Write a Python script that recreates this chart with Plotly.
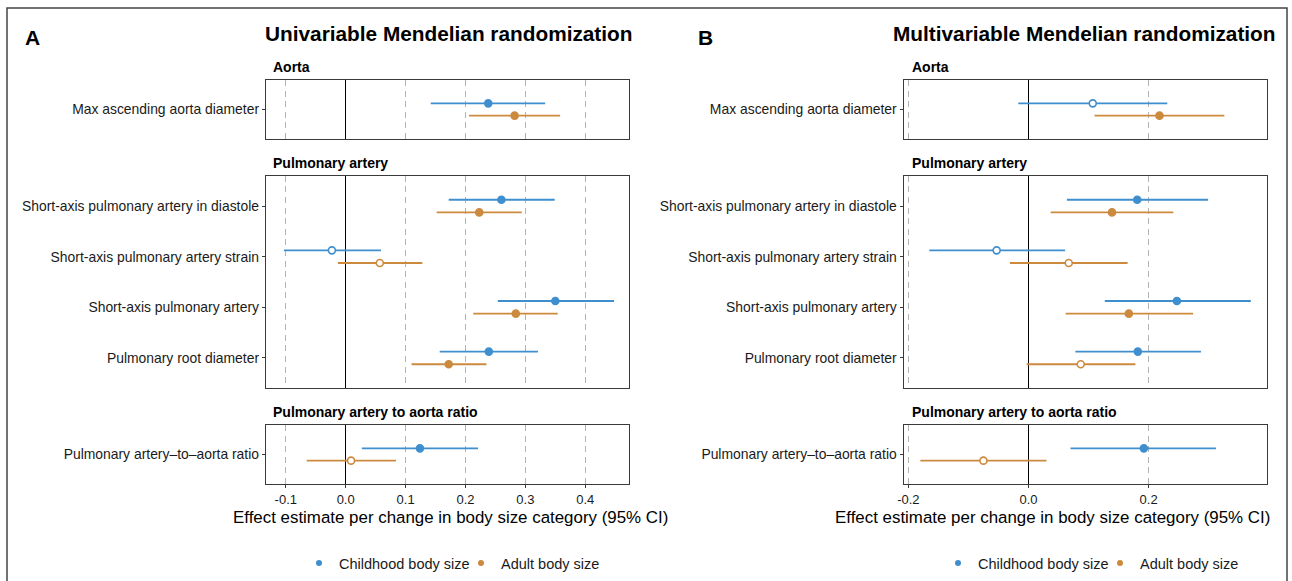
import plotly.graph_objects as go

W, H = 1292, 581

# ---------------- data ----------------
aorta_labels = ["Max ascending aorta diameter"]
pa_labels = ["Short-axis pulmonary artery in diastole",
             "Short-axis pulmonary artery strain",
             "Short-axis pulmonary artery",
             "Pulmonary root diameter"]
ratio_labels = ["Pulmonary artery\u2013to\u2013aorta ratio"]
section_titles = ["Aorta", "Pulmonary artery", "Pulmonary artery to aorta ratio"]
group_names = ["Childhood body size", "Adult body size"]

# row order: aorta, 4 pulmonary artery rows, ratio
# Univariable MR (panel A)
child_est_A = [0.238, 0.260, -0.023, 0.350, 0.239, 0.124]
child_lo_A = [0.142, 0.172, -0.103, 0.254, 0.157, 0.027]
child_hi_A = [0.333, 0.349, 0.059, 0.448, 0.321, 0.221]
child_sig_A = [True, True, False, True, True, True]
adult_est_A = [0.282, 0.223, 0.057, 0.284, 0.172, 0.009]
adult_lo_A = [0.206, 0.152, -0.013, 0.213, 0.110, -0.065]
adult_hi_A = [0.358, 0.294, 0.128, 0.354, 0.235, 0.084]
adult_sig_A = [True, True, False, True, True, False]

# Multivariable MR (panel B)
child_est_B = [0.107, 0.181, -0.053, 0.247, 0.182, 0.192]
child_lo_B = [-0.017, 0.064, -0.165, 0.127, 0.078, 0.070]
child_hi_B = [0.231, 0.299, 0.061, 0.370, 0.287, 0.312]
child_sig_B = [False, True, False, True, True, True]
adult_est_B = [0.218, 0.139, 0.067, 0.167, 0.087, -0.075]
adult_lo_B = [0.110, 0.037, -0.031, 0.062, -0.003, -0.180]
adult_hi_B = [0.326, 0.241, 0.165, 0.274, 0.178, 0.030]
adult_sig_B = [True, True, False, True, False, False]

ticks_A = [-0.1, 0.0, 0.1, 0.2, 0.3, 0.4]
ticklabels_A = ["-0.1", "0.0", "0.1", "0.2", "0.3", "0.4"]
ticks_B = [-0.2, 0.0, 0.2]
ticklabels_B = ["-0.2", "0.0", "0.2"]

# ---------------- styling / layout ----------------
COL = ["#3f8fcf", "#cc8a3f"]
FONT = "Liberation Sans, Arial, sans-serif"
TXT = "#1a1a1a"
FRAME = "#3a3a3a"

sections_rows = [[0], [1, 2, 3, 4], [5]]
sections_labels = [aorta_labels, pa_labels, ratio_labels]
sec_ypx = [(80, 139), (175.7, 388.3), (425, 484)]

panels = [
    dict(letter="A", title="Univariable Mendelian randomization",
         est=[child_est_A, adult_est_A], lo=[child_lo_A, adult_lo_A],
         hi=[child_hi_A, adult_hi_A], sig=[child_sig_A, adult_sig_A],
         xpx=(266, 629), xrange=[-0.133, 0.473], ticks=ticks_A, ticktext=ticklabels_A,
         letter_x=32, title_x=448, xtitle_x=450, strip_x=271, legend_x=[299, 461]),
    dict(letter="B", title="Multivariable Mendelian randomization",
         est=[child_est_B, adult_est_B], lo=[child_lo_B, adult_lo_B],
         hi=[child_hi_B, adult_hi_B], sig=[child_sig_B, adult_sig_B],
         xpx=(903.7, 1267), xrange=[-0.2077, 0.397], ticks=ticks_B, ticktext=ticklabels_B,
         letter_x=705, title_x=1084, xtitle_x=1052, strip_x=910, legend_x=[938, 1100]),
]

def fx(v):
    return v / W

def fy(v):
    return 1 - v / H

fig = go.Figure()
layout = dict()
annotations = []
offsets = [-0.125, 0.125]

for p, pan in enumerate(panels):
    for s in range(3):
        k = p * 3 + s + 1
        xa = "x" if k == 1 else f"x{k}"
        ya = "y" if k == 1 else f"y{k}"
        rows = sections_rows[s]
        n = len(rows)
        for g in range(2):
            xs, ys, em, ep, fills = [], [], [], [], []
            for i, r in enumerate(rows):
                e = pan["est"][g][r]
                xs.append(e)
                ys.append(i + 1 + offsets[g])
                em.append(e - pan["lo"][g][r])
                ep.append(pan["hi"][g][r] - e)
                fills.append(COL[g] if pan["sig"][g][r] else "white")
            fig.add_trace(go.Scatter(
                x=xs, y=ys, mode="markers", xaxis=xa, yaxis=ya, showlegend=False,
                marker=dict(size=7, color=fills, line=dict(color=COL[g], width=1.6)),
                error_x=dict(type="data", symmetric=False, array=ep, arrayminus=em,
                             width=0, thickness=1.8, color=COL[g]),
                hoverinfo="skip"))
        bottom = (s == 2)
        y0, y1 = sec_ypx[s]
        layout["xaxis" if k == 1 else f"xaxis{k}"] = dict(
            domain=[fx(pan["xpx"][0]), fx(pan["xpx"][1])], anchor=ya,
            range=pan["xrange"], tickvals=pan["ticks"], ticktext=pan["ticktext"],
            showticklabels=bottom, ticks="outside" if bottom else "", ticklen=3,
            tickcolor=FRAME, tickfont=dict(size=13, color=TXT, family=FONT),
            showgrid=True, gridcolor="#b3b3b3", griddash="6px,4.6px", gridwidth=1.2,
            zeroline=True, zerolinecolor="black", zerolinewidth=1.2, automargin=False,
            showline=True, mirror=True, linecolor=FRAME, linewidth=1.4, fixedrange=True)
        layout["yaxis" if k == 1 else f"yaxis{k}"] = dict(
            domain=[fy(y1), fy(y0)], anchor=xa, range=[n + 0.6, 0.4],
            tickvals=list(range(1, n + 1)), ticktext=sections_labels[s],
            ticks="outside", ticklen=3, tickcolor=FRAME, automargin=False,
            tickfont=dict(size=13.9, color=TXT, family=FONT),
            showgrid=False, zeroline=False, showline=True, mirror=True,
            linecolor=FRAME, linewidth=1.4, fixedrange=True)
        annotations.append(dict(
            text=f"<b>{section_titles[s]}</b>", x=fx(pan["strip_x"]), y=fy(y0 - 13),
            xref="paper", yref="paper", xanchor="left", yanchor="middle",
            showarrow=False, font=dict(size=14, color="black", family=FONT)))
    annotations.append(dict(
        text=f"<b>{pan['letter']}</b>", x=fx(pan["letter_x"]), y=fy(37),
        xref="paper", yref="paper", xanchor="center", yanchor="middle",
        showarrow=False, font=dict(size=21, color="black", family=FONT)))
    annotations.append(dict(
        text=f"<b>{pan['title']}</b>", x=fx(pan["title_x"]), y=fy(33),
        xref="paper", yref="paper", xanchor="center", yanchor="middle",
        showarrow=False, font=dict(size=20.8, color="black", family=FONT)))
    annotations.append(dict(
        text="Effect estimate per change in body size category (95% CI)",
        x=fx(pan["xtitle_x"]), y=fy(517), xref="paper", yref="paper",
        xanchor="center", yanchor="middle", showarrow=False,
        font=dict(size=16.9, color="black", family=FONT)))
    # legend entries: one legend per entry for exact placement
    for g in range(2):
        li = p * 2 + g + 1
        leg = "legend" if li == 1 else f"legend{li}"
        fig.add_trace(go.Scatter(
            x=[None], y=[None], mode="markers", name=group_names[g], legend=leg,
            xaxis="x3" if p == 0 else "x6", yaxis="y3" if p == 0 else "y6",
            marker=dict(size=6, color=COL[g])))
        layout[leg] = dict(orientation="h", x=fx(pan["legend_x"][g]), y=fy(563),
                           xanchor="left", yanchor="middle", bgcolor="rgba(0,0,0,0)",
                           font=dict(size=14.5, color=TXT, family=FONT),
                           itemclick=False, itemdoubleclick=False)

fig.update_layout(
    template="none",
    width=W, height=H, margin=dict(l=0, r=0, t=0, b=0, pad=0, autoexpand=False),
    paper_bgcolor="white", plot_bgcolor="white",
    font=dict(family=FONT, color=TXT), annotations=annotations,
    shapes=[dict(type="rect", xref="paper", yref="paper", x0=fx(7), x1=fx(1287),
                 y0=-0.1, y1=fy(8), line=dict(color="#444", width=1.5))],
    **layout)

fig.write_html("out.html", config={"displayModeBar": False},
               post_script="document.body.style.margin='0';document.body.style.overflow='hidden';")
